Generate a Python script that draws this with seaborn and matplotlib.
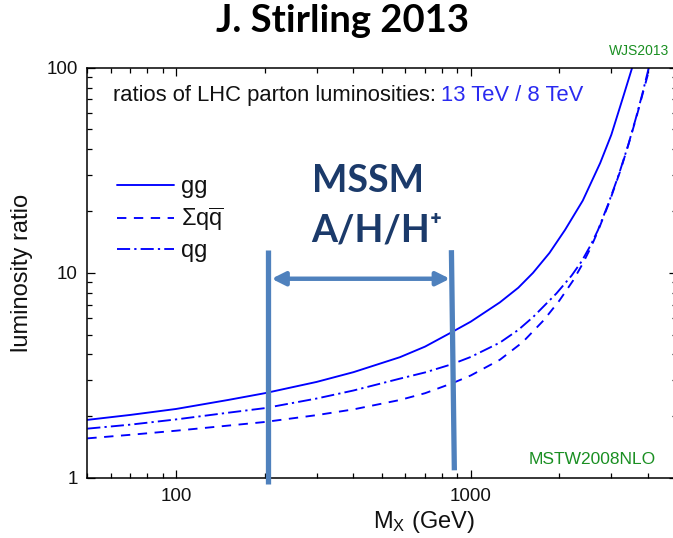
import matplotlib
matplotlib.use("Agg")
import matplotlib.pyplot as plt
import seaborn as sns
import pandas as pd
from matplotlib.ticker import FixedLocator, LogLocator, NullFormatter, FuncFormatter

# 13 TeV / 8 TeV parton luminosity ratios versus the mass M_X of the produced system
mass_gg = [50, 70, 100, 150, 200, 300, 400, 575, 700, 865, 1000, 1256, 1450, 1627,
           1850, 2090, 2400, 2750, 3000, 3300, 3530]
ratio_gg = [1.92, 2.03, 2.17, 2.40, 2.59, 2.94, 3.28, 3.88, 4.37, 5.15, 5.78, 7.18, 8.46, 10.0,
            12.5, 16.2, 22.5, 34.3, 47.1, 73.0, 100.0]

mass_qq = [50, 70, 100, 150, 200, 300, 400, 575, 700, 870, 1000, 1256, 1500, 1766,
           2000, 2225, 2392, 2550, 2704, 2950, 3215, 3450, 3660, 3850, 4050]
ratio_qq = [1.56, 1.624, 1.70, 1.80, 1.875, 2.025, 2.16, 2.40, 2.59, 2.905, 3.16, 3.77, 4.59, 5.86,
            7.33, 9.17, 11.0, 13.2, 16.0, 22.0, 31.3, 43.4, 58.2, 76.5, 100.0]

mass_qg = [50, 70, 100, 150, 200, 300, 400, 575, 700, 865, 1000, 1256, 1450, 1630,
           1954, 2200, 2376, 2550, 2700, 2930, 3180, 3420, 3630, 3820, 4020]
ratio_qg = [1.74, 1.82, 1.93, 2.08, 2.19, 2.44, 2.67, 3.05, 3.27, 3.59, 3.89, 4.57, 5.27, 6.10,
            7.94, 9.7, 11.35, 13.6, 16.1, 21.7, 30.1, 41.8, 56.4, 74.2, 100.0]

channel_labels = ["gg", r"Σq$\overline{\mathrm{q}}$", "qg"]

# MSSM heavy Higgs mass window (GeV)
mssm_low, mssm_high = 205, 870

x_limits = (50, 5000)
y_limits = (1, 100)
y_major = [1, 10, 100]
x_major = [100, 1000]

sns.set_style("ticks")
plt.rcParams["font.family"] = ["Liberation Sans", "DejaVu Sans"]
plt.rcParams["mathtext.fontset"] = "custom"
plt.rcParams["mathtext.rm"] = "Liberation Sans"
plt.rcParams["mathtext.it"] = "Liberation Sans:italic"
plt.rcParams["mathtext.bf"] = "Liberation Sans:bold"

W, H = 673, 538
fig = plt.figure(figsize=(W / 100, H / 100), dpi=100)
ax_l, ax_r, ax_b, ax_t = 87.3, 676.7, 478.0, 67.7
ax = fig.add_axes([ax_l / W, 1 - ax_b / H, (ax_r - ax_l) / W, (ax_b - ax_t) / H])
ax.set_xscale("log")
ax.set_yscale("log")

line_blue = "#0000ff"
df_gg = pd.DataFrame({"mass": mass_gg, "ratio": ratio_gg})
df_qq = pd.DataFrame({"mass": mass_qq, "ratio": ratio_qq})
df_qg = pd.DataFrame({"mass": mass_qg, "ratio": ratio_qg})
sns.lineplot(data=df_gg, x="mass", y="ratio", ax=ax, color=line_blue, lw=1.35,
             linestyle="-", label=channel_labels[0], legend=False)
sns.lineplot(data=df_qq, x="mass", y="ratio", ax=ax, color=line_blue, lw=1.35,
             linestyle=(0, (5, 4)), label=channel_labels[1], legend=False)
sns.lineplot(data=df_qg, x="mass", y="ratio", ax=ax, color=line_blue, lw=1.35,
             linestyle=(0, (7, 2.2, 1.2, 2.2)), label=channel_labels[2], legend=False)

ax.set_xlim(*x_limits)
ax.set_ylim(*y_limits)

ax.xaxis.set_major_locator(FixedLocator(x_major))
ax.yaxis.set_major_locator(FixedLocator(y_major))
ax.xaxis.set_minor_locator(LogLocator(base=10, subs=range(2, 10)))
ax.yaxis.set_minor_locator(LogLocator(base=10, subs=range(2, 10)))
fmt = FuncFormatter(lambda v, _: f"{v:g}")
ax.xaxis.set_major_formatter(fmt)
ax.yaxis.set_major_formatter(fmt)
ax.xaxis.set_minor_formatter(NullFormatter())
ax.yaxis.set_minor_formatter(NullFormatter())
ax.tick_params(which="both", direction="in", top=True, right=True, color="black",
               width=0.9, labelsize=13.5, labelcolor="#111111")
ax.tick_params(which="major", length=5.6, pad=7)
ax.tick_params(which="minor", length=3.3)
for s in ax.spines.values():
    s.set_linewidth(1.1)
    s.set_color("black")

ax.set_xlabel(r"M$_\mathrm{X}$ (GeV)", fontsize=17, color="#111111")
ax.set_ylabel("luminosity ratio", fontsize=17, color="#111111")
ax.xaxis.set_label_coords((424 - ax_l) / (ax_r - ax_l), (ax_b - 522) / (ax_b - ax_t))
ax.xaxis.label.set_va("center")
ax.yaxis.set_label_coords((22 - ax_l) / (ax_r - ax_l), 0.5)
ax.yaxis.label.set_va("center")

leg = ax.legend(loc="center left", bbox_to_anchor=((117 - ax_l) / (ax_r - ax_l), (ax_b - 219) / (ax_b - ax_t)),
                frameon=False, fontsize=17, handlelength=2.4, handletextpad=0.3,
                labelspacing=0.30, borderpad=0, borderaxespad=0)
for t in leg.get_texts():
    t.set_color("#111111")

def ax_frac(px, py):
    return ((px - ax_l) / (ax_r - ax_l), (ax_b - py) / (ax_b - ax_t))

# headline caption, black part then blue part
t1 = ax.text(*ax_frac(113, 101), "ratios of LHC parton luminosities:", transform=ax.transAxes,
             fontsize=15.8, color="#111111", ha="left", va="baseline")
fig.canvas.draw()
bb = t1.get_window_extent(renderer=fig.canvas.get_renderer())
x2 = ax.transAxes.inverted().transform((bb.x1 + 5, bb.y0))[0]
ax.text(x2, ax_frac(113, 101)[1], "13 TeV / 8 TeV", transform=ax.transAxes,
        fontsize=15.8, color="#2a2af0", ha="left", va="baseline")

green = "#1a8f22"
fig.text(669 / W, 1 - 51 / H, "WJS2013", fontsize=10, color=green, ha="right", va="center")
ax.text(*ax_frac(656, 459), "MSTW2008NLO", transform=ax.transAxes, fontsize=12.5,
        color=green, ha="right", va="center")

# mass window markers
bar_color = "#4f81bd"
ax.plot([mssm_low, mssm_low], [12.9, 0.93], color=bar_color, lw=3.8, clip_on=False,
        solid_capstyle="butt", zorder=5)
ax.plot([860, 880], [12.9, 1.09], color=bar_color, lw=3.8, clip_on=False,
        solid_capstyle="butt", zorder=5)
ax.annotate("", xy=(850, 9.36), xytext=(211, 9.36), xycoords="data", textcoords="data",
            arrowprops=dict(arrowstyle="<|-|>", color=bar_color, lw=3.2, mutation_scale=20,
                            shrinkA=0, shrinkB=0), zorder=5)

navy = "#1b3a6a"
ax.text(*ax_frac(368, 181), "MSSM", transform=ax.transAxes, fontsize=27, fontweight="bold",
        color=navy, ha="center", va="center", family=["Lato", "DejaVu Sans"])
ax.text(*ax_frac(377, 231), "A/H/H⁺", transform=ax.transAxes, fontsize=27, fontweight="bold",
        color=navy, ha="center", va="center", family=["Lato", "DejaVu Sans"])

fig.text(342 / W, 1 - 21 / H, "J. Stirling 2013", fontsize=27.5, fontweight="bold",
         color="black", ha="center", va="center", family=["Lato", "DejaVu Sans"])

fig.savefig("out.png", dpi=100)
